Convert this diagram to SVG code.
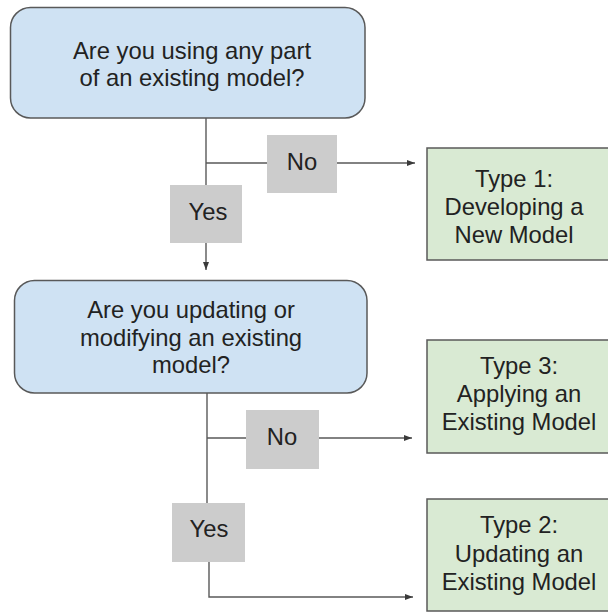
<svg xmlns="http://www.w3.org/2000/svg" width="608" height="613" viewBox="0 0 608 613">
<defs>
<style>
.q{fill:#cfe2f3;stroke:#595959;stroke-width:1.5}
.t{fill:#d9ead3;stroke:#595959;stroke-width:1.5}
.l{fill:#cccccc;stroke:none}
.c{fill:none;stroke:#595959;stroke-width:1.4}
text{font-family:"Liberation Sans",Arial,sans-serif;font-size:23.8px;fill:#222222;text-anchor:middle}
</style>
<marker id="ah" viewBox="0 0 8 6" refX="8" refY="3" markerWidth="8" markerHeight="6" markerUnits="userSpaceOnUse" orient="auto">
<path d="M0,0 L8,3 L0,6 Z" fill="#3a3a3a"/>
</marker>
</defs>
<rect width="608" height="613" fill="#ffffff"/>
<g id="connectors">
<path class="c" d="M206,118 V185"/>
<path class="c" d="M206,163 H267"/>
<path class="c" d="M337,163 H415" marker-end="url(#ah)"/>
<path class="c" d="M206,243 V270" marker-end="url(#ah)"/>
<path class="c" d="M207,393 V503"/>
<path class="c" d="M207,438 H246"/>
<path class="c" d="M319,438 H412" marker-end="url(#ah)"/>
<path class="c" d="M209,562 V597 H413" marker-end="url(#ah)"/>
</g>
<g id="q1">
<rect class="q" x="10.5" y="7.5" width="354.5" height="110.5" rx="20"/>
<text x="192" y="59">Are you using any part</text>
<text x="192" y="86">of an existing model?</text>
</g>
<g id="no1">
<rect class="l" x="267" y="135" width="70" height="58"/>
<text x="302" y="170">No</text>
</g>
<g id="yes1">
<rect class="l" x="170" y="185" width="72" height="58"/>
<text x="208" y="220">Yes</text>
</g>
<g id="type1">
<rect class="t" x="427" y="148" width="184" height="112"/>
<text x="514" y="187">Type 1:</text>
<text x="514" y="215">Developing a</text>
<text x="514" y="243">New Model</text>
</g>
<g id="q2">
<rect class="q" x="14.5" y="280.5" width="352.5" height="112.5" rx="20"/>
<text x="191" y="318">Are you updating or</text>
<text x="191" y="346">modifying an existing</text>
<text x="191" y="373">model?</text>
</g>
<g id="no2">
<rect class="l" x="246" y="410" width="73" height="59"/>
<text x="282" y="445">No</text>
</g>
<g id="type3">
<rect class="t" x="427" y="340" width="184" height="113"/>
<text x="519" y="374">Type 3:</text>
<text x="519" y="402">Applying an</text>
<text x="519" y="430">Existing Model</text>
</g>
<g id="yes2">
<rect class="l" x="172" y="503" width="73" height="59"/>
<text x="209" y="537">Yes</text>
</g>
<g id="type2">
<rect class="t" x="427" y="499" width="184" height="112"/>
<text x="519" y="533">Type 2:</text>
<text x="519" y="562">Updating an</text>
<text x="519" y="590">Existing Model</text>
</g>
</svg>
